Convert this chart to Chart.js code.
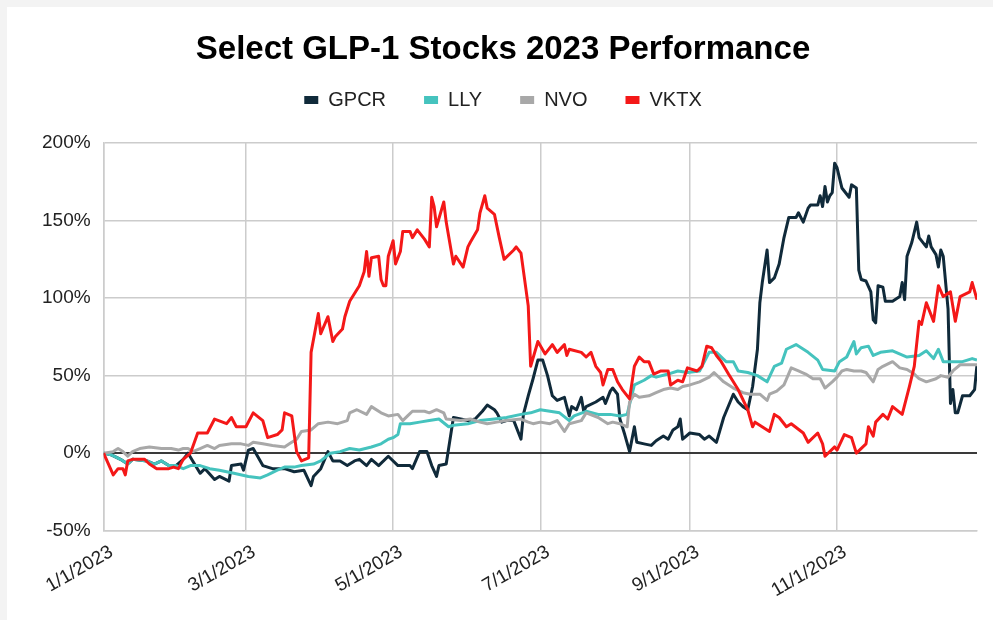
<!DOCTYPE html>
<html>
<head>
<meta charset="utf-8">
<title>Select GLP-1 Stocks 2023 Performance</title>
<script src="https://cdn.jsdelivr.net/npm/chart.js@4.4.1/dist/chart.umd.min.js"></script>
<style>
  html, body { margin: 0; padding: 0; background: #f3f3f3; overflow: hidden; }
  #card { position: absolute; left: 7px; top: 7px; width: 986px; height: 613px; background: #fff; }
  #chart { position: absolute; left: 7px; top: 7px; }
</style>
</head>
<body>
<div id="card"></div>
<canvas id="chart" width="1002" height="613"></canvas>
<script>
// x values are days since 1/1/2023
const tickDays = [0, 59, 120, 181, 243, 304];
const tickLabels = ["1/1/2023", "3/1/2023", "5/1/2023", "7/1/2023", "9/1/2023", "11/1/2023"];

const gpcrDays = [0, 3, 7, 10, 12, 18, 21, 24, 27, 30,
  33, 35, 40, 42, 46, 48, 52, 53, 57, 58,
  60, 62, 66, 70, 75, 79, 83, 86, 87, 90,
  93, 95, 98, 101, 104, 106, 109, 111, 114, 118,
  122, 124, 127, 128, 131, 134, 136, 138, 139, 142,
  143, 145, 148, 151, 154, 157, 159, 162, 163, 165,
  167, 170, 173, 174, 176, 178, 180, 182, 184, 186,
  188, 191, 193, 194, 196, 198, 199, 200, 204, 207,
  208, 210, 211, 213, 214, 216, 218, 220, 221, 224,
  227, 229, 232, 234, 236, 238, 239, 240, 243, 247,
  249, 251, 254, 257, 261, 263, 265, 267, 269, 271,
  272, 273, 275, 276, 278, 280, 282, 284, 287, 288,
  290, 292, 293, 296, 297, 298, 299, 300, 301, 302,
  303, 304, 306, 309, 310, 312, 313, 314, 316, 318,
  319, 320, 321, 323, 324, 327, 330, 331, 332, 333,
  335, 337, 338, 341, 342, 343, 345, 346, 347, 348,
  350, 351, 352, 353, 354, 356, 359, 361, 362];
const gpcrValues = [0, -1, -4, -7, -4, -5, -7, -5, -8, -8,
  -4, 0, -13, -10, -17, -15, -18, -8, -7, -11,
  2, 3, -8, -10, -10, -12, -11, -21, -15, -10,
  1, -5, -5, -8, -5, -4, -8, -4, -8, -2,
  -8, -8, -8, -10, 1, 1, -8, -15, -8, -7,
  3, 23, 22, 21, 22, 27, 31, 28, 26, 20,
  21, 21, 9, 25, 37, 48, 60, 60, 50, 37,
  34, 36, 24, 30, 28, 36, 27, 30, 33, 36,
  32, 40, 42, 38, 22, 12, 1, 17, 7, 6,
  5, 8, 11, 9, 15, 17, 22, 9, 13, 12,
  9, 11, 7, 23, 38, 33, 30, 28, 43, 67,
  97, 110, 131, 110, 113, 122, 139, 152, 152, 155,
  149, 158, 160, 160, 166, 159, 172, 162, 166, 168,
  187, 184, 171, 165, 173, 171, 118, 112, 111, 104,
  86, 84, 108, 107, 98, 98, 101, 110, 99, 127,
  136, 149, 139, 133, 140, 133, 128, 120, 131, 127,
  93, 32, 41, 26, 26, 37, 37, 41, 57];

const llyDays = [0, 3, 7, 10, 12, 18, 21, 24, 27, 30,
  33, 36, 40, 44, 48, 54, 60, 65, 68, 72,
  75, 79, 82, 87, 90, 94, 98, 102, 106, 111,
  115, 118, 120, 122, 123, 127, 131, 135, 139, 143,
  145, 151, 156, 162, 167, 173, 177, 181, 185, 189,
  193, 195, 200, 205, 210, 214, 217, 220, 224, 227,
  229, 234, 238, 242, 247, 251, 254, 258, 261, 263,
  267, 271, 275, 278, 281, 283, 287, 292, 296, 298,
  303, 305, 308, 311, 312, 314, 317, 319, 322, 327,
  333, 338, 341, 344, 346, 348, 352, 356, 360, 362];
const llyValues = [0, -1, -4, -7, -4, -5, -7, -5, -8, -8,
  -10, -8, -8, -10, -11, -13, -15, -16, -14, -11,
  -9, -9, -8, -7, -5, 0, 1, 3, 2, 4,
  6, 9, 10, 12, 19, 19, 20, 21, 22, 17,
  18, 19, 21, 22, 23, 25, 26, 28, 27, 26,
  21, 24, 27, 25, 25, 24, 25, 44, 47, 50,
  49, 51, 53, 52, 53, 65, 65, 59, 59, 53,
  52, 50, 46, 56, 58, 67, 70, 65, 60, 54,
  53, 59, 62, 72, 64, 68, 69, 63, 65, 66,
  62, 63, 66, 61, 67, 59, 59, 59, 61, 60];

const nvoDays = [0, 4, 6, 8, 10, 12, 15, 19, 24, 28,
  31, 33, 35, 37, 40, 43, 46, 48, 53, 57,
  60, 62, 66, 70, 75, 77, 80, 82, 86, 89,
  93, 97, 101, 102, 105, 109, 111, 115, 118, 122,
  124, 126, 128, 133, 135, 138, 141, 142, 148, 152,
  156, 159, 163, 167, 173, 176, 178, 181, 185, 188,
  191, 193, 198, 200, 205, 209, 211, 214, 217, 218,
  220, 222, 226, 229, 232, 235, 238, 240, 243, 247,
  251, 253, 257, 261, 265, 268, 272, 275, 276, 279,
  282, 285, 288, 291, 294, 297, 299, 302, 304, 306,
  308, 311, 314, 316, 319, 321, 323, 327, 330, 333,
  336, 338, 341, 345, 347, 350, 352, 355, 360, 362];
const nvoValues = [0, 1, 3, 1, -2, 1, 3, 4, 3, 3,
  2, 3, 3, 1, 3, 5, 3, 5, 6, 6,
  5, 7, 6, 5, 4, 6, 9, 14, 15, 19,
  20, 19, 21, 26, 28, 25, 30, 26, 24, 25,
  21, 24, 27, 27, 26, 28, 26, 22, 21, 22,
  20, 19, 20, 21, 22, 20, 19, 20, 19, 21,
  14, 19, 21, 26, 23, 19, 20, 19, 17, 33,
  38, 36, 37, 39, 41, 42, 41, 43, 44, 46,
  49, 52, 46, 42, 39, 38, 38, 34, 38, 40,
  44, 55, 53, 51, 48, 48, 42, 46, 49, 53,
  54, 53, 53, 52, 46, 54, 56, 59, 55, 54,
  51, 48, 46, 48, 50, 49, 53, 57, 57, 57];

const vktxDays = [0, 4, 6, 8, 9, 10, 12, 17, 19, 22,
  27, 29, 31, 33, 36, 39, 43, 46, 51, 53,
  55, 59, 62, 66, 68, 72, 74, 75, 78, 80,
  82, 85, 86, 89, 90, 93, 95, 96, 99, 100,
  102, 106, 108, 109, 110, 111, 114, 115, 116, 117,
  118, 120, 121, 123, 124, 127, 128, 130, 133, 135,
  136, 137, 138, 141, 142, 145, 146, 149, 151, 152,
  155, 156, 158, 159, 162, 164, 166, 170, 171, 173,
  176, 177, 180, 183, 186, 188, 191, 192, 193, 198,
  200, 202, 204, 206, 207, 209, 211, 213, 215, 218,
  220, 222, 224, 226, 228, 231, 234, 235, 238, 240,
  242, 246, 248, 250, 252, 254, 256, 259, 263, 267,
  269, 270, 276, 278, 280, 283, 285, 290, 292, 296,
  298, 299, 303, 304, 307, 310, 312, 316, 317, 319,
  320, 323, 325, 327, 331, 334, 336, 338, 339, 341,
  344, 346, 348, 351, 353, 355, 359, 360, 362];
const vktxValues = [0, -14, -10, -10, -14, -5, -4, -4, -7, -10,
  -10, -9, -10, -4, 0, 13, 13, 22, 19, 23,
  17, 17, 26, 21, 10, 12, 15, 26, 24, 1,
  -5, -3, 65, 90, 77, 88, 72, 75, 80, 88,
  98, 108, 117, 130, 114, 126, 127, 112, 108, 108,
  127, 137, 122, 130, 143, 143, 139, 144, 138, 133,
  165, 159, 146, 162, 149, 122, 127, 120, 133, 136,
  144, 155, 166, 158, 154, 139, 125, 131, 133, 129,
  95, 56, 72, 64, 70, 65, 70, 63, 67, 65,
  62, 65, 56, 52, 44, 54, 54, 46, 41, 35,
  56, 62, 59, 59, 51, 53, 53, 44, 47, 46,
  55, 53, 56, 69, 68, 63, 59, 51, 41, 28,
  17, 20, 14, 25, 23, 17, 19, 13, 7, 13,
  6, -2, 4, 2, 12, 10, 0, 6, 17, 11,
  20, 25, 22, 30, 25, 43, 56, 85, 83, 97,
  85, 108, 101, 104, 85, 101, 104, 110, 99];

function toPoints(days, values) {
  return days.map((d, i) => ({ x: d, y: values[i] }));
}

function makeSeries(label, days, values, color, order) {
  return {
    label: label,
    data: toPoints(days, values),
    borderColor: color,
    backgroundColor: color,
    borderWidth: 3,
    pointRadius: 0,
    borderJoinStyle: "round",
    tension: 0,
    order: order,
  };
}

// extra room between the legend and the plot
const legendSpacing = {
  id: "legendSpacing",
  afterInit(chart) {
    const fit = chart.legend.fit;
    chart.legend.fit = function () {
      fit.call(this);
      this.height += 23;
    };
  },
};

const ctx = document.getElementById("chart").getContext("2d");

new Chart(ctx, {
  type: "line",
  data: {
    datasets: [
      makeSeries("GPCR", gpcrDays, gpcrValues, "#102a3a", 4),
      makeSeries("LLY", llyDays, llyValues, "#45c3be", 3),
      makeSeries("NVO", nvoDays, nvoValues, "#a8a8a8", 2),
      makeSeries("VKTX", vktxDays, vktxValues, "#f41818", 1),
    ],
  },
  plugins: [legendSpacing],
  options: {
    responsive: false,
    animation: false,
    layout: { padding: { left: 22, right: 32, top: 0, bottom: 8 } },
    plugins: {
      title: {
        display: true,
        text: "Select GLP-1 Stocks 2023 Performance",
        color: "#000",
        font: { family: "'Liberation Sans', Arial", size: 33, weight: "bold", lineHeight: 1 },
        padding: { top: 26, bottom: -14 },
      },
      legend: {
        labels: {
          color: "#222",
          boxWidth: 14,
          boxHeight: 8,
          padding: 38,
          font: { family: "'Liberation Sans', Arial", size: 20 },
          sort: (a, b) => a.datasetIndex - b.datasetIndex,
          generateLabels: (chart) =>
            Chart.defaults.plugins.legend.labels.generateLabels(chart).map((l) => ({ ...l, lineWidth: 0 })),
        },
      },
      tooltip: { enabled: false },
    },
    scales: {
      x: {
        type: "linear",
        min: 0,
        max: 362,
        afterBuildTicks: (scale) => {
          scale.ticks = tickDays.map((d) => ({ value: d }));
        },
        ticks: {
          color: "#222",
          font: { family: "'Liberation Sans', Arial", size: 19 },
          maxRotation: 30,
          minRotation: 30,
          labelOffset: 8,
          padding: 10,
          callback: (value) => tickLabels[tickDays.indexOf(value)],
        },
        grid: { color: "#cccccc", lineWidth: 1.5, drawTicks: false },
        border: { color: "#cccccc", width: 1.5 },
      },
      y: {
        min: -50,
        max: 200,
        ticks: {
          stepSize: 50,
          color: "#222",
          padding: 13,
          font: { family: "'Liberation Sans', Arial", size: 19 },
          callback: (value) => value + "%",
        },
        grid: {
          drawTicks: false,
          color: (c) => (c.tick && c.tick.value === 0 ? "#3a3a3a" : "#cccccc"),
          lineWidth: (c) => (c.tick && c.tick.value === 0 ? 2 : 1.5),
        },
        border: { color: "#cccccc", width: 1.5 },
      },
    },
  },
});
</script>
</body>
</html>
